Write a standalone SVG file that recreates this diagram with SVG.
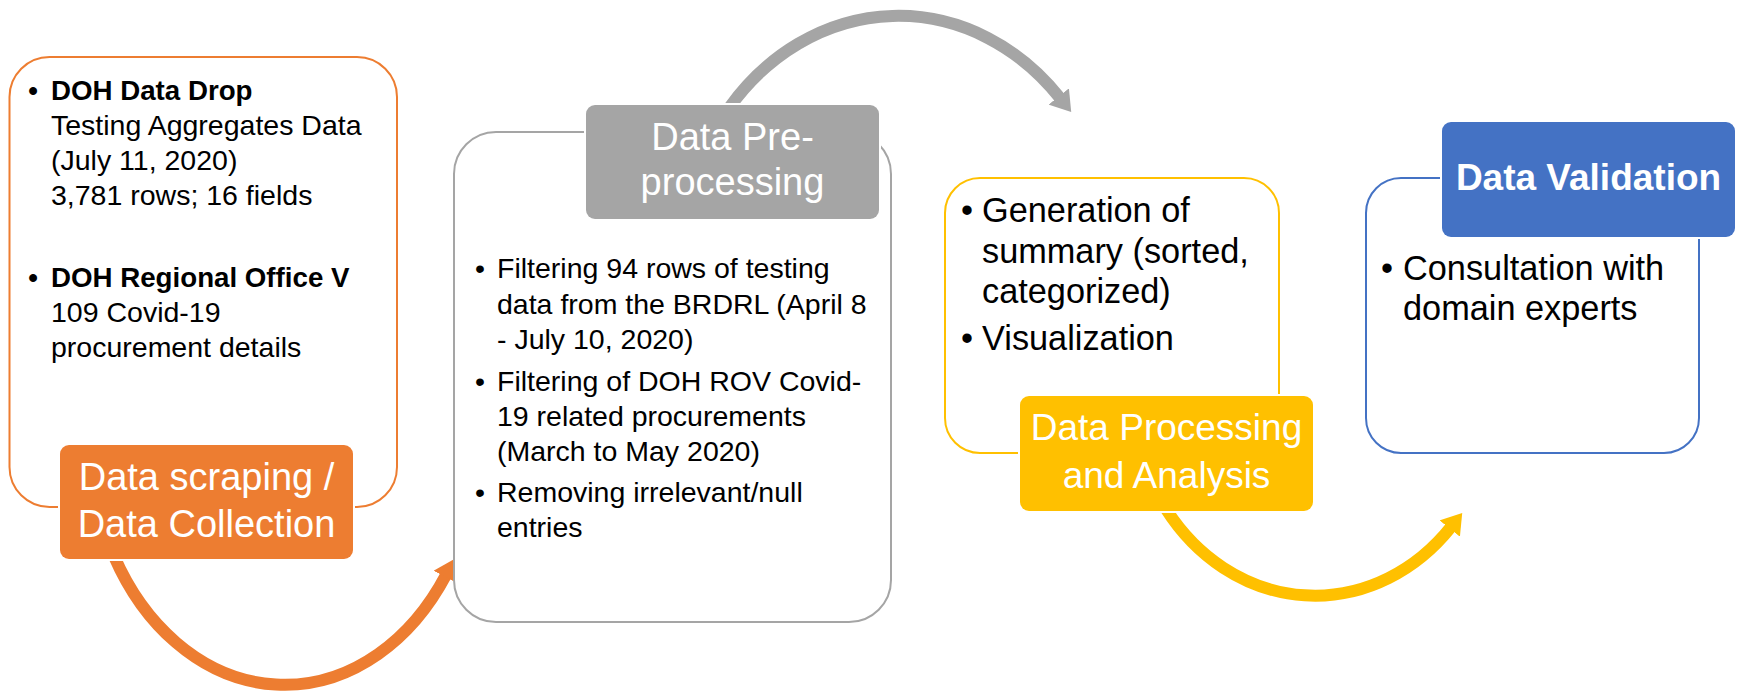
<svg xmlns="http://www.w3.org/2000/svg" width="1741" height="693" viewBox="0 0 1741 693">
<style>
text{font-family:"Liberation Sans",Arial,sans-serif;fill:#000}
.body{font-size:28.5px}
.bold{font-size:27.7px;font-weight:bold}
.big{font-size:34.3px}
.lbl{fill:#fff;text-anchor:middle}
.bul{text-anchor:middle}
.box{fill:#fff;stroke-width:2}
.tag{stroke:#fff;stroke-width:4;paint-order:stroke}
.conn{fill:none;stroke-width:12}
</style>
<defs>
<marker id="arrowO" viewBox="0 0 20 26" markerWidth="20" markerHeight="26" refX="2" refY="13" markerUnits="userSpaceOnUse" orient="auto"><path d="M0,0 L20,13 L0,26 z" fill="#ED7D31"/></marker>
<marker id="arrowG" viewBox="0 0 20 26" markerWidth="20" markerHeight="26" refX="2" refY="13" markerUnits="userSpaceOnUse" orient="auto"><path d="M0,0 L20,13 L0,26 z" fill="#A5A5A5"/></marker>
<marker id="arrowY" viewBox="0 0 20 26" markerWidth="20" markerHeight="26" refX="2" refY="13" markerUnits="userSpaceOnUse" orient="auto"><path d="M0,0 L20,13 L0,26 z" fill="#FFC000"/></marker>
</defs>
<rect width="1741" height="693" fill="#fff"/>
<g id="connectors">
<path class="conn" d="M114,556 A195,250 0 0 0 446,575" stroke="#ED7D31" marker-end="url(#arrowO)"/>
<path class="conn" d="M729,108 A220,255 0 0 1 1060,98" stroke="#A5A5A5" marker-end="url(#arrowG)"/>
<path class="conn" d="M1166,509 A184,210 0 0 0 1451,527" stroke="#FFC000" marker-end="url(#arrowY)"/>
</g>
<g id="node-collection">
<rect class="box" x="9.5" y="57" width="387.5" height="450" rx="40" stroke="#ED7D31"/>
<text class="bold bul" x="33" y="100">•</text>
<text class="bold" x="51" y="100">DOH Data Drop</text>
<text class="body" x="51" y="135">Testing Aggregates Data</text>
<text class="body" x="51" y="170">(July 11, 2020)</text>
<text class="body" x="51" y="205">3,781 rows; 16 fields</text>
<text class="bold bul" x="33" y="287">•</text>
<text class="bold" x="51" y="287">DOH Regional Office V</text>
<text class="body" x="51" y="322">109 Covid-19</text>
<text class="body" x="51" y="357">procurement details</text>
<rect class="tag" x="60" y="445" width="293" height="114" rx="9" fill="#ED7D31"/>
<text class="lbl" x="206.5" y="490" font-size="38">Data scraping /</text>
<text class="lbl" x="206.5" y="537" font-size="38">Data Collection</text>
</g>
<g id="node-preprocessing">
<rect class="box" x="454" y="132" width="437" height="490" rx="42" stroke="#A5A5A5" stroke-width="2.5"/>
<rect class="tag" x="586" y="105" width="293" height="114" rx="9" fill="#A5A5A5"/>
<text class="lbl" x="732.5" y="150" font-size="38">Data Pre-</text>
<text class="lbl" x="732.5" y="195" font-size="38">processing</text>
<text class="body bul" x="480" y="278">•</text>
<text class="body" x="497" y="278">Filtering 94 rows of testing</text>
<text class="body" x="497" y="314">data from the BRDRL (April 8</text>
<text class="body" x="497" y="349">- July 10, 2020)</text>
<text class="body bul" x="480" y="391">•</text>
<text class="body" x="497" y="391">Filtering of DOH ROV Covid-</text>
<text class="body" x="497" y="426">19 related procurements</text>
<text class="body" x="497" y="461">(March to May 2020)</text>
<text class="body bul" x="480" y="502">•</text>
<text class="body" x="497" y="502">Removing irrelevant/null</text>
<text class="body" x="497" y="537">entries</text>
</g>
<g id="node-analysis">
<rect class="box" x="945" y="178" width="334" height="275" rx="35" stroke="#FFC000"/>
<text class="big bul" x="967" y="222">•</text>
<text class="big" x="982" y="222">Generation of</text>
<text class="big" x="982" y="263">summary (sorted,</text>
<text class="big" x="982" y="303">categorized)</text>
<text class="big bul" x="967" y="350">•</text>
<text class="big" x="982" y="350">Visualization</text>
<rect class="tag" x="1020" y="396" width="293" height="115" rx="9" fill="#FFC000"/>
<text class="lbl" x="1166.5" y="440" font-size="37">Data Processing</text>
<text class="lbl" x="1166.5" y="488" font-size="37">and Analysis</text>
</g>
<g id="node-validation">
<rect class="box" x="1366" y="178" width="333" height="275" rx="35" stroke="#4472C4"/>
<rect class="tag" x="1442" y="122" width="293" height="115" rx="9" fill="#4472C4"/>
<text class="lbl" x="1588.5" y="190" font-size="37" font-weight="bold">Data Validation</text>
<text class="big bul" x="1387" y="280" font-size="34.7">•</text>
<text class="big" x="1403" y="280" font-size="34.7">Consultation with</text>
<text class="big" x="1403" y="320" font-size="34.7">domain experts</text>
</g>
</svg>
